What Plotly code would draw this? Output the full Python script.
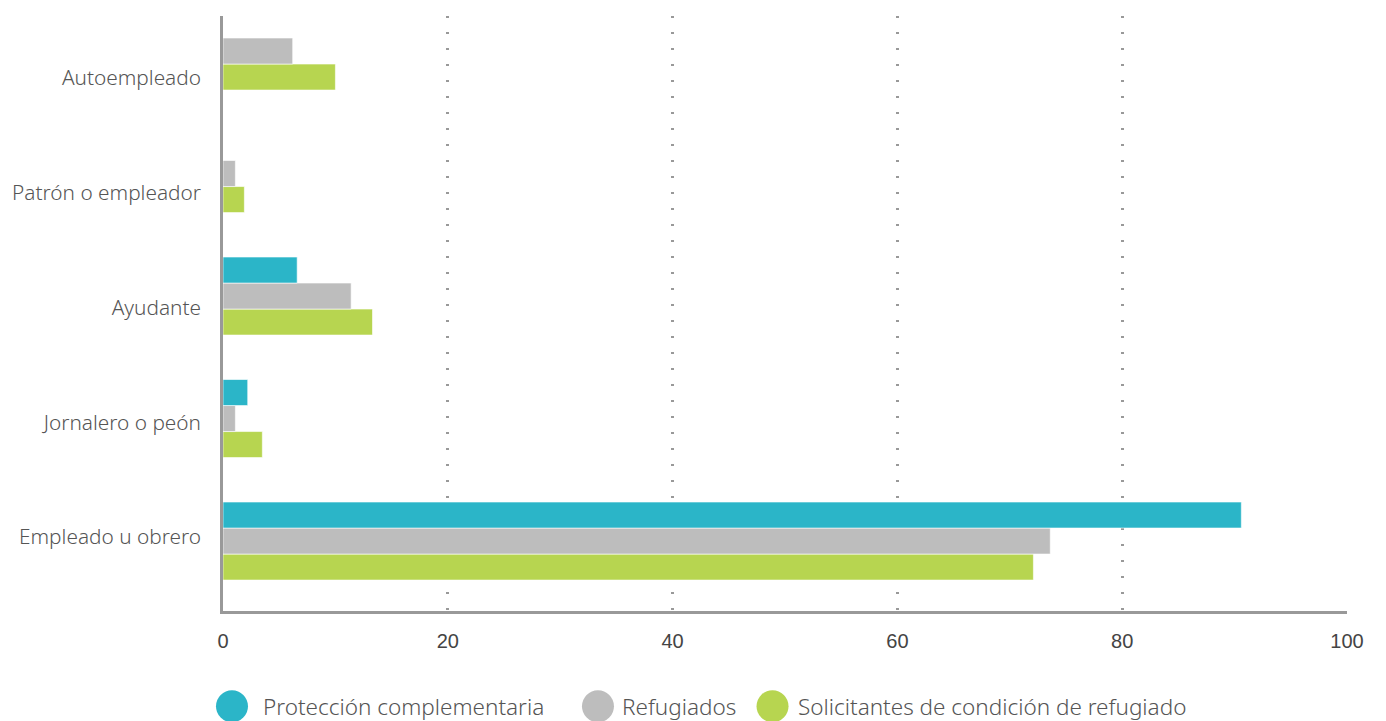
import plotly.graph_objects as go

categories = ["Empleado u obrero", "Jornalero o peón", "Ayudante", "Patrón o empleador", "Autoempleado"]
proteccion = [90.6, 2.2, 6.6, 0, 0]
refugiados = [73.6, 1.1, 11.4, 1.1, 6.2]
solicitantes = [72.1, 3.5, 13.3, 1.9, 10.0]
series_names = ["Protección complementaria", "Refugiados", "Solicitantes de condición de refugiado"]
colors = ["#2BB5C8", "#BDBDBD", "#B7D550"]
x_ticks = [0, 20, 40, 60, 80, 100]

fig = go.Figure()
# plotted bottom-to-top within a group: add in reverse so teal is on top
for name, vals, col in reversed(list(zip(series_names, [proteccion, refugiados, solicitantes], colors))):
    fig.add_trace(go.Bar(
        y=categories, x=vals, name=name, orientation="h",
        marker=dict(color=col, line=dict(color="rgba(255,255,255,0.6)", width=1)),
        showlegend=False,
    ))

# invisible helper trace carrying the category labels on an overlaid axis
fig.add_trace(go.Scatter(y=categories, x=[None] * len(categories), yaxis="y2",
                         mode="markers", showlegend=False, hoverinfo="skip"))

label_font = dict(family="Noto Sans", size=20.8, color="#555555", weight=300)
fig.update_layout(
    width=1386, height=721,
    margin=dict(l=220, r=39, t=16, b=110),
    paper_bgcolor="white", plot_bgcolor="white",
    barmode="group", bargap=0.363, bargroupgap=0,
    xaxis=dict(
        range=[0, 100], tickvals=x_ticks, showgrid=True,
        gridcolor="#999999", griddash="2px,14px", gridwidth=2.5,
        showline=True, linecolor="#999999", linewidth=3,
        zeroline=False, ticks="", ticklabelstandoff=10,
        tickfont=dict(family="Liberation Sans", size=20, color="#444444"),
    ),
    yaxis=dict(
        type="category", categoryorder="array", categoryarray=categories,
        range=[-0.571, 4.286], showgrid=False,
        showline=True, linecolor="#999999", linewidth=3,
        ticks="", showticklabels=False,
    ),
    yaxis2=dict(
        type="category", categoryorder="array", categoryarray=categories,
        overlaying="y", side="left",
        range=[-0.645, 4.540], showgrid=False, showline=False, zeroline=False,
        ticks="", ticklabelstandoff=21, tickfont=label_font,
    ),
)

# custom legend with round markers
leg_x_circle = [0.008, 0.3336, 0.4889]
leg_x_text = [0.0337, 0.3532, 0.5102]
leg_y = -0.16
for name, col, xc, xt in zip(series_names, colors, leg_x_circle, leg_x_text):
    fig.add_shape(type="circle", xref="paper", yref="paper",
                  xsizemode="pixel", ysizemode="pixel",
                  xanchor=xc, yanchor=leg_y, x0=-16, x1=16, y0=-16, y1=16,
                  fillcolor=col, line=dict(width=0))
    fig.add_annotation(text=name, xref="paper", yref="paper", x=xt, y=leg_y,
                       xanchor="left", yanchor="middle", showarrow=False,
                       font=dict(family="Noto Sans", size=22.5, color="#555555", weight=300))

fig.write_html("out.html", config={"displayModeBar": False},
               post_script="document.body.style.margin='0';document.body.style.overflow='hidden';")
